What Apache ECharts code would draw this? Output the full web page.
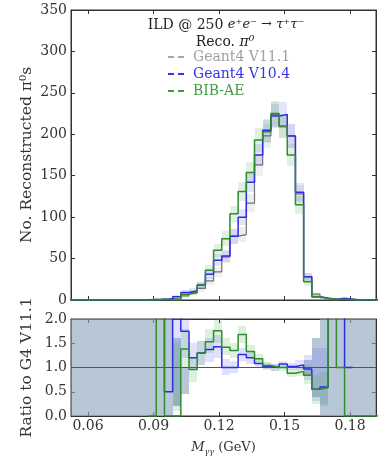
<!DOCTYPE html>
<html><head><meta charset="utf-8">
<script src="https://cdn.jsdelivr.net/npm/echarts@6/dist/echarts.min.js"></script>
<style>html,body{margin:0;padding:0;background:#fff}#c{width:380px;height:457px}</style>
</head><body><div id="c"></div>
<script>
// ---- data ----
const binEdges = [0.05,0.05375,0.0575,0.06125,0.065,0.06875,0.0725,0.07625,0.08,0.08375,
  0.0875,0.09125,0.095,0.09875,0.1025,0.10625,0.11,0.11375,0.1175,0.12125,
  0.125,0.12875,0.1325,0.13625,0.14,0.14375,0.1475,0.15125,0.155,0.15875,
  0.1625,0.16625,0.17,0.17375,0.1775,0.18125,0.185,0.18875,0.1925,0.19625,0.2];
const seriesNames = ['Geant4 V11.1','Geant4 V10.4','BIB-AE'];
const countsG4v11 = [0,0,0,0,0,0,0,0,0,0, 1,0,2,1,5,9,14,23,34,52,77,79,117,163,198,224,209,198,128,28,7,3,0,1,1, 0,0,0,0,0];
const countsG4v10 = [0,0,0,0,0,0,0,0,0,0, 0,1,1,4,9,11,18,31,48,53,77,100,142,175,205,222,224,198,130,28,4,2,1,2,1, 0,0,0,0,0];
const countsBIBAE = [0,0,0,0,0,0,0,0,0,0, 0,1,0,0,7,9,18,36,60,74,104,131,154,193,203,225,210,175,115,22,4,2,1,1,0, 0,0,0,0,0];
const errG4v11 = [0,0,0,0,0,0,0,0,0,0, 1,0,1,1,2,3,4,5,6,7,9,9,11,13,14,15,14,14,11,5,3,2,0,1,1, 0,0,0,0,0];
const errG4v10 = [0,0,0,0,0,0,0,0,0,0, 0,1,1,2,3,3,4,6,7,7,9,10,12,13,14,15,15,14,11,5,2,1,1,1,1, 0,0,0,0,0];
const errBIBAE = [0,0,0,0,0,0,0,0,0,0, 0,1,0,0,3,3,4,6,8,9,10,11,12,14,14,15,14,13,11,5,2,1,1,1,0, 0,0,0,0,0];

const ratioG4v10 = [null,null,null,null,null,null,null,null,null,null,null,
  3,0.5,3,1.75,1.2,1.3,1.37,1.43,1.0,1.0,1.27,1.2,1.08,1.02,1.0,1.07,1.02,1.05,0.97,0.55,0.6,3,3,1.0,
  null,null,null,null,null];
const ratioBIBAE = [null,null,null,null,null,null,null,null,null,null,
  0,3,0,0,1.38,0.96,1.3,1.53,1.76,1.42,1.35,1.68,1.33,1.18,1.04,1.0,1.0,0.88,0.92,0.84,0.55,0.58,3,1.0,0,
  0,0,0,0,0];
const refBandLo = [0,0,0,0,0,0,0,0,0,0,0,0,0, 0.2,0.45,null,null,null,null,null,null,null,null,null,null,null,null,null,null,0.85,0.4, 0,0,0,0,0,0,0,0,0];
const refBandHi = [2,2,2,2,2,2,2,2,2,2,2,2,2, 1.6,0.98,null,null,null,null,null,null,null,null,null,null,null,null,null,null,1.15,1.6, 2,2,2,2,2,2,2,2,2];
const blueBandLo = [null,null,null,null,null,null,null,null,null,null,null,null,null,
  0.2,1.2,0.95,1.05,1.12,1.2,0.85,0.88,1.13,1.08,0.98,0.94,0.93,1.0,0.95,0.94,0.75,0.3,0.2,
  null,null,null,null,null,null,null,null];
const blueBandHi = [null,null,null,null,null,null,null,null,null,null,null,null,null,
  2,2,1.5,1.55,1.6,1.66,1.17,1.13,1.41,1.32,1.18,1.1,1.07,1.14,1.09,1.16,1.25,1.4,1.4,
  null,null,null,null,null,null,null,null];
const greenBandLo = [null,null,null,null,null,null,null,null,null,null,null,null,null,
  0.1,1.0,0.7,1.05,1.3,1.5,1.25,1.2,1.5,1.2,1.08,0.96,0.93,0.93,0.8,0.83,0.65,0.25,0.25,
  null,null,null,null,null,null,null,null];
const greenBandHi = [null,null,null,null,null,null,null,null,null,null,null,null,null,
  1.5,1.8,1.2,1.55,1.8,2.0,1.6,1.5,1.86,1.46,1.28,1.12,1.07,1.07,0.96,1.01,1.05,0.85,0.9,
  null,null,null,null,null,null,null,null];

const xTicks = [0.06,0.09,0.12,0.15,0.18];
const yTicksMain = [0,350,50];
const yTicksRatio = [0,2,0.5];
const titleLine1 = ['ILD @ 250 ', 'e⁺e⁻ → τ⁺τ⁻'];
const titleLine2 = ['Reco. ', 'π⁰'];

// ---- chart ----
const FONT = 'DejaVu Serif';
const C_GRAY = '#727272', C_BLUE = '#2c2ce6', C_GREEN = '#2f8c2f';
const xMin = 0.0522, xMax = 0.1919;

function stepData(vals){
  const d = vals.map((v,i)=>[binEdges[i], v]);
  d.push([binEdges[vals.length], vals[vals.length-1]]);
  return d;
}
function bandData(lo, hi){
  const d=[];
  for(let i=0;i<lo.length;i++){ if(lo[i]==null||hi[i]==null||hi[i]===lo[i]) continue; d.push([binEdges[i],binEdges[i+1],lo[i],hi[i]]); }
  return d;
}
function countBand(c, e){
  return bandData(c.map((v,i)=>v-e[i]), c.map((v,i)=>v+e[i]));
}
function bandSeries(data, xi, yi, color, z){
  return {type:'custom', xAxisIndex:xi, yAxisIndex:yi, z:z, silent:true, data:data,
    encode:{x:[0,1], y:[2,3]},
    renderItem:function(params, api){
      const p0 = api.coord([api.value(0), api.value(3)]);
      const p1 = api.coord([api.value(1), api.value(2)]);
      const cs = params.coordSys;
      const x0 = Math.round(Math.max(p0[0], cs.x)), x1 = Math.round(Math.min(p1[0], cs.x+cs.width));
      const y0 = Math.round(Math.max(p0[1], cs.y)), y1 = Math.round(Math.min(p1[1], cs.y+cs.height));
      if(x1<=x0 || y1<=y0) return null;
      return {type:'rect', shape:{x:x0, y:y0, width:x1-x0, height:y1-y0}, style:{fill:color}};
    }};
}
function lineSeries(name, vals, xi, yi, color, w, z){
  return {type:'line', name:name, xAxisIndex:xi, yAxisIndex:yi, step:'end', data:stepData(vals),
    showSymbol:false, symbol:'none', z:z, clip:true, connectNulls:false,
    lineStyle:{color:color, width:w}, itemStyle:{color:color}};
}
const lbl = {fontFamily:FONT, fontSize:14, color:'#333'};
function xAx(grid, pos, labels){
  return {type:'value', gridIndex:grid, position:pos, min:xMin, max:xMax,
    axisLine:{show:true, onZero:false, lineStyle:{color:'#333'}},
    axisTick:{show:true, inside:true, length:4, customValues:xTicks, lineStyle:{color:'#333'}},
    axisLabel:{show:labels, customValues:xTicks, margin:3, formatter:v=>v.toFixed(2), ...lbl},
    splitLine:{show:false}};
}
function yAx(grid, pos, t, labels, fmt){
  return {type:'value', gridIndex:grid, position:pos, min:t[0], max:t[1], interval:t[2],
    axisLine:{show:true, onZero:false, lineStyle:{color:'#333'}},
    axisTick:{show:true, inside:true, length:4, lineStyle:{color:'#333'}},
    axisLabel:{show:labels, margin:4, formatter:fmt, ...lbl},
    splitLine:{show:false}};
}
const xAxes = [xAx(0,'bottom',false), xAx(0,'top',false), xAx(1,'bottom',true), xAx(1,'top',false)];
xAxes[2].name = '{i|M}{s|γγ}{n| (GeV)}';
xAxes[2].nameLocation = 'middle';
xAxes[2].nameGap = 23;
xAxes[2].nameTextStyle = {color:'#333', rich:{
  i:{fontFamily:FONT, fontStyle:'italic', fontSize:13, color:'#333', lineHeight:17, verticalAlign:'middle'},
  s:{fontFamily:FONT, fontStyle:'italic', fontSize:8, color:'#333', lineHeight:9, verticalAlign:'bottom'},
  n:{fontFamily:FONT, fontSize:13, color:'#333', lineHeight:17, verticalAlign:'middle'}}};
const yAxes = [yAx(0,'left',yTicksMain,true,v=>String(v)), yAx(0,'right',yTicksMain,false),
  yAx(1,'left',yTicksRatio,true,v=>v.toFixed(1)), yAx(1,'right',yTicksRatio,false)];
yAxes[0].name = 'No. Reconstructed π⁰s';
yAxes[0].nameLocation='middle'; yAxes[0].nameGap=36; yAxes[0].nameMoveOverlap=false;
yAxes[0].nameTextStyle={fontFamily:FONT,fontSize:15.5,color:'#333'};
yAxes[2].name = 'Ratio to G4 V11.1';
yAxes[2].nameLocation='middle'; yAxes[2].nameGap=36; yAxes[2].nameMoveOverlap=false;
yAxes[2].nameTextStyle={fontFamily:FONT,fontSize:15.5,color:'#333'};

const ratioBlue = lineSeries('r1', ratioG4v10, 2, 2, C_BLUE, 1.5, 6);
ratioBlue.markLine = {silent:true, symbol:'none', label:{show:false}, animation:false,
  lineStyle:{color:'#4b5660', width:1.2, type:'solid'}, data:[{yAxis:1}]};

const option = {
  animation:false,
  backgroundColor:'#fff',
  grid:[
    {left:71, top:10, width:305, height:290, show:true, borderColor:'#333', borderWidth:1, backgroundColor:'#fff'},
    {left:71, top:319, width:305, height:98, show:true, borderColor:'#333', borderWidth:1, backgroundColor:'#fff'}
  ],
  xAxis:xAxes, yAxis:yAxes,
  legend:{left:163, top:45, orient:'vertical', itemWidth:16, itemHeight:2, itemGap:3, selectedMode:false,
    icon:'path://M0,0h6v2h-6zM10,0h6v2h-6z',
    textStyle:{fontFamily:FONT, fontSize:14, lineHeight:14, padding:[0,0,0,4]},
    data:[
      {name:seriesNames[0], itemStyle:{color:'#a5a5a5'}, textStyle:{color:'#a0a0a0'}},
      {name:seriesNames[1], itemStyle:{color:'#3535e6'}, textStyle:{color:'#3535e6'}},
      {name:seriesNames[2], itemStyle:{color:'#3e9e3e'}, textStyle:{color:'#3e9e3e'}}
    ]},
  graphic:[
    {type:'text', x:226, y:25, style:{text:'{r|'+titleLine1[0]+'}{m|'+titleLine1[1]+'}', align:'center', verticalAlign:'middle',
      rich:{r:{fontFamily:FONT, fontSize:14, fill:'#222'}, m:{fontFamily:FONT, fontSize:13, fontStyle:'italic', fill:'#222'}}}},
    {type:'text', x:225, y:42, style:{text:'{r|'+titleLine2[0]+'}{m|'+titleLine2[1]+'}', align:'center', verticalAlign:'middle',
      rich:{r:{fontFamily:FONT, fontSize:14, fill:'#222'}, m:{fontFamily:FONT, fontSize:14, fontStyle:'italic', fill:'#222'}}}}
  ],
  series:[
    bandSeries(countBand(countsG4v11, errG4v11), 0, 0, 'rgba(150,150,150,0.15)', 1),
    bandSeries(countBand(countsG4v10, errG4v10), 0, 0, 'rgba(90,90,255,0.16)', 1),
    bandSeries(countBand(countsBIBAE, errBIBAE), 0, 0, 'rgba(60,170,60,0.16)', 1),
    lineSeries(seriesNames[0], countsG4v11, 0, 0, C_GRAY, 1.2, 3),
    lineSeries(seriesNames[1], countsG4v10, 0, 0, C_BLUE, 1.5, 4),
    lineSeries(seriesNames[2], countsBIBAE, 0, 0, C_GREEN, 1.5, 5),
    bandSeries(bandData(refBandLo, refBandHi), 2, 2, 'rgba(140,165,187,0.62)', 1),
    bandSeries(bandData(blueBandLo, blueBandHi), 2, 2, 'rgba(90,90,255,0.18)', 1),
    bandSeries(bandData(greenBandLo, greenBandHi), 2, 2, 'rgba(60,170,60,0.18)', 1),
    ratioBlue,
    lineSeries('r2', ratioBIBAE, 2, 2, C_GREEN, 1.5, 7)
  ]
};
const chart = echarts.init(document.getElementById('c'));
chart.setOption(option);
</script></body></html>
